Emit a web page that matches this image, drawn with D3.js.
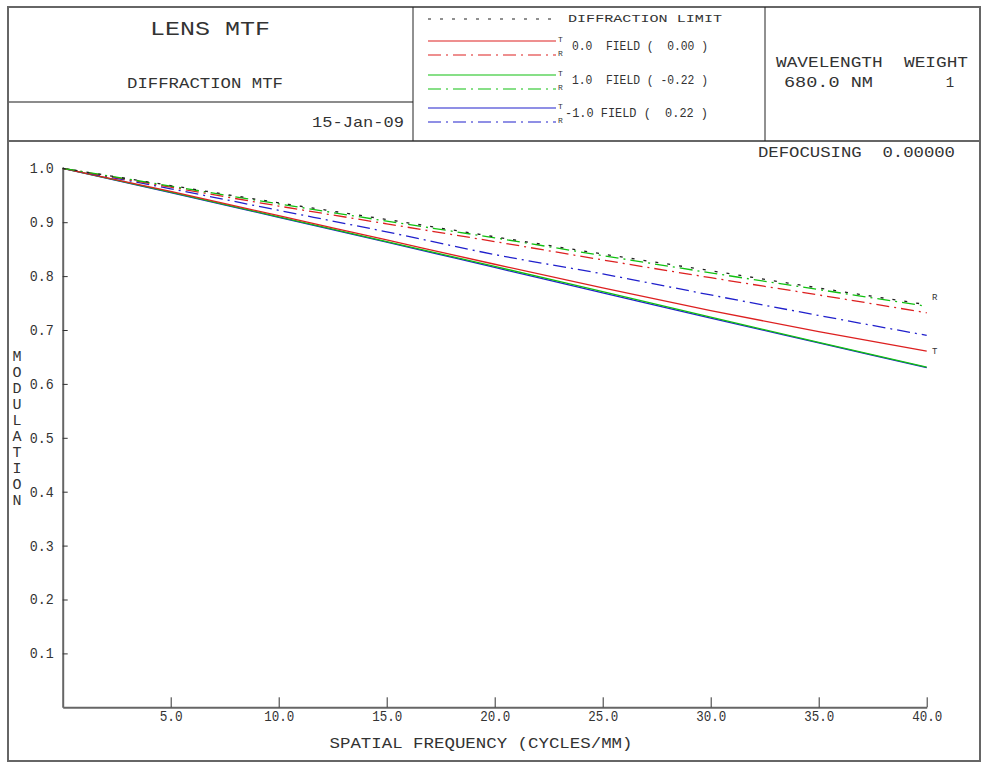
<!DOCTYPE html>
<html><head><meta charset="utf-8">
<script src="https://cdn.jsdelivr.net/npm/d3@7"></script>
<style>
html,body{margin:0;padding:0;background:#fff;}
svg{display:block;}
text{font-family:"Liberation Mono","Courier New",monospace;fill:#333;white-space:pre;}
</style></head>
<body>
<svg id="chart" width="993" height="777"></svg>
<script>
// ---------- data ----------
const freq = [0, 5, 10, 15, 20, 25, 30, 35, 40];
const diffLimit  = [1.000, 0.968, 0.936, 0.905, 0.873, 0.841, 0.810, 0.778, 0.747];
const tan00      = [1.000, 0.957, 0.912, 0.867, 0.822, 0.778, 0.736, 0.697, 0.661];
const sag00      = [1.000, 0.965, 0.930, 0.897, 0.864, 0.830, 0.797, 0.765, 0.732];
const tan10      = [1.000, 0.956, 0.910, 0.864, 0.818, 0.771, 0.724, 0.677, 0.631];
const sag10      = [1.000, 0.967, 0.934, 0.902, 0.871, 0.838, 0.806, 0.775, 0.744];
const tanM10     = [1.000, 0.955, 0.909, 0.863, 0.816, 0.769, 0.722, 0.676, 0.630];
const sagM10     = [1.000, 0.962, 0.922, 0.882, 0.840, 0.804, 0.765, 0.727, 0.690];
const xTicks = [5, 10, 15, 20, 25, 30, 35, 40];
const yTicks = [0.1, 0.2, 0.3, 0.4, 0.5, 0.6, 0.7, 0.8, 0.9, 1.0];
const legendFields = ["0.0  FIELD (  0.00 )", "1.0  FIELD ( -0.22 )", "-1.0 FIELD (  0.22 )"];
const seriesColors = ["#dd2020", "#10c010", "#2020cc"];

const svg = d3.select("#chart");
const GRAY = "#666";

function txt(x, y, s, size, len, anchor) {
  const t = svg.append("text").attr("x", x).attr("y", y)
    .attr("font-size", size).attr("dominant-baseline", "central")
    .attr("text-anchor", anchor || "start").attr("xml:space", "preserve").text(s);
  if (len) t.attr("textLength", len).attr("lengthAdjust", "spacingAndGlyphs");
  return t;
}
function line(x1, y1, x2, y2, color, w, dash) {
  const l = svg.append("line").attr("x1", x1).attr("y1", y1).attr("x2", x2).attr("y2", y2)
    .attr("stroke", color).attr("stroke-width", w);
  if (dash) l.attr("stroke-dasharray", dash);
  return l;
}

// ---------- frame & header ----------
svg.append("rect").attr("x", 8).attr("y", 7).attr("width", 972).attr("height", 754)
  .attr("fill", "none").attr("stroke", GRAY).attr("stroke-width", 2);
line(8, 141, 980, 141, GRAY, 2);
line(8, 102, 413, 102, GRAY, 1.5);
line(413, 7, 413, 141, "#222", 1);
line(765, 7, 765, 141, "#222", 1);

txt(210, 29, "LENS MTF", 21, 120, "middle");
txt(205, 84, "DIFFRACTION MTF", 14, 156, "middle");
txt(404, 123, "15-Jan-09", 15, 92, "end");

// legend
const DASH_R = "13,5,2,5";
const DASH_D = "3,9";
line(428, 19, 556, 19, "#222", 1.2, DASH_D);
txt(568, 19, "DIFFRACTION LIMIT", 11, 154);
const rowY = [46, 80, 113];
legendFields.forEach((f, i) => {
  const y = rowY[i];
  line(428, y - 5, 556, y - 5, seriesColors[i], 1.2);
  line(428, y + 9, 556, y + 9, seriesColors[i], 1.2, DASH_R);
  txt(558, y - 7, "T", 8, null);
  txt(558, y + 7, "R", 8, null);
  const startX = f.startsWith("-") ? 565 : 572;
  txt(startX, y, f, 13, 708 - startX);
});

txt(776, 63, "WAVELENGTH  WEIGHT", 14, 192);
txt(784, 83, "680.0 NM", 14, 89);
txt(950, 83, "1", 14, null, "middle");

txt(758, 153, "DEFOCUSING  0.00000", 14, 197);

// ---------- plot ----------
const x = d3.scaleLinear().domain([0, 40]).range([62.7, 926.7]);
const y = d3.scaleLinear().domain([0, 1]).range([707.3, 168.3]);

const gx = svg.append("g").attr("transform", `translate(0,${y(0)})`)
  .call(d3.axisBottom(x).tickValues(xTicks).tickFormat(d3.format(".1f"))
    .tickSizeInner(-10).tickSizeOuter(0).tickPadding(4));
const gy = svg.append("g").attr("transform", `translate(${x(0)},0)`)
  .call(d3.axisLeft(y).tickValues(yTicks).tickFormat(d3.format(".1f"))
    .tickSizeInner(-5).tickSizeOuter(0).tickPadding(9));
[gx, gy].forEach(g => {
  g.select(".domain").attr("stroke", GRAY).attr("stroke-width", 2);
  g.selectAll(".tick line").attr("stroke", "#333").attr("stroke-width", 1);
  g.selectAll(".tick text").attr("font-family", '"Liberation Mono",monospace')
    .attr("font-size", 14).attr("fill", "#333");
});
gx.selectAll(".tick text").attr("textLength", function(d){ return d >= 10 ? 30 : 23; })
  .attr("lengthAdjust", "spacingAndGlyphs");
gy.selectAll(".tick text").attr("textLength", 24).attr("lengthAdjust", "spacingAndGlyphs");

txt(481, 744, "SPATIAL FREQUENCY (CYCLES/MM)", 14, 303, "middle");
"MODULATION".split("").forEach((c, i) => txt(17, 357 + i * 16.1, c, 15, null, "middle"));

const gen = d3.line().x((d, i) => x(freq[i])).y(d => y(d)).curve(d3.curveMonotoneX);
const series = [
  {v: tanM10, c: seriesColors[2], dash: null},
  {v: tan10, c: seriesColors[1], dash: null},
  {v: tan00, c: seriesColors[0], dash: null},
  {v: sagM10, c: seriesColors[2], dash: DASH_R},
  {v: sag00, c: seriesColors[0], dash: DASH_R},
  {v: sag10, c: seriesColors[1], dash: DASH_R},
  {v: diffLimit, c: "#222", dash: DASH_D}
];
series.forEach(s => {
  const p = svg.append("path").datum(s.v).attr("d", gen).attr("fill", "none")
    .attr("stroke", s.c).attr("stroke-width", 1.3);
  if (s.dash) p.attr("stroke-dasharray", s.dash);
});

txt(932, 298, "R", 9, null);
txt(932, 352, "T", 9, null);
</script>
</body></html>
